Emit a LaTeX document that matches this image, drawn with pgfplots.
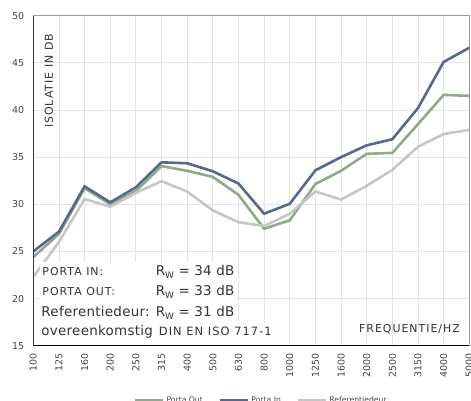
\documentclass[border=0pt]{standalone}
\usepackage{fontspec}
\setmainfont{DejaVu Sans}
\newfontfamily\spaced[LetterSpace=9]{DejaVu Sans}
\newfontfamily\bigtext[LetterSpace=2]{DejaVu Sans}
\usepackage{pgfplots}
\pgfplotsset{compat=1.18}
\definecolor{colin}{HTML}{58678C}
\definecolor{colout}{HTML}{8FAA89}
\definecolor{colref}{HTML}{C6C6C6}
\definecolor{gridc}{HTML}{E4E4E4}
\definecolor{bordc}{HTML}{9A9A9A}
\definecolor{textc}{HTML}{333333}
\definecolor{tickc}{HTML}{444444}
\begin{document}
\begin{tikzpicture}
\useasboundingbox (-33.3bp,-55.3bp) rectangle (437.7bp,345.7bp);
\begin{axis}[
  scale only axis, width=436bp, height=330bp,
  xmin=0, xmax=17, ymin=15, ymax=50,
  xtick={0,...,17},
  xticklabels={100,125,160,200,250,315,400,500,630,800,1000,1250,1600,2000,2500,3150,4000,5000},
  ytick={15,20,...,50},
  grid=major, major grid style={gridc, line width=0.8bp},
  major tick length=0pt,
  axis line style={bordc, line width=1.2bp},
  tick label style={/pgf/number format/assume math mode=true, font=\fontsize{9.5}{11}\selectfont, text=tickc},
  x tick label style={rotate=90, anchor=east, inner sep=0pt},
  xticklabel shift=8bp,
  y tick label style={inner sep=0pt},
  yticklabel shift=9bp,
  legend style={at={(0.523,-0.1667)}, anchor=center, draw=none, fill=none,
    legend columns=3, font=\fontsize{7.7}{9}\selectfont, text=tickc,
    /tikz/every even column/.append style={column sep=14bp}},
  legend image code/.code={\draw[#1] (0bp,0bp) -- (28bp,0bp);},
]
\addplot[colout, line width=2.6bp] coordinates {
(0,24.4) (1,26.85) (2,31.7) (3,30.0) (4,31.4) (5,34.05) (6,33.55) (7,32.9) (8,31.0) (9,27.4)
(10,28.3) (11,32.15) (12,33.55) (13,35.35) (14,35.45) (15,38.5) (16,41.6) (17,41.5)};
\addlegendentry{Porta Out}
\addplot[colin, line width=2.6bp] coordinates {
(0,25.0) (1,27.1) (2,31.9) (3,30.2) (4,31.8) (5,34.45) (6,34.35) (7,33.5) (8,32.2) (9,29.0)
(10,30.05) (11,33.6) (12,35.0) (13,36.25) (14,36.9) (15,40.2) (16,45.1) (17,46.6)};
\addlegendentry{Porta In}
\addplot[colref, line width=2.6bp] coordinates {
(0,22.3) (1,26.0) (2,30.55) (3,29.75) (4,31.2) (5,32.45) (6,31.35) (7,29.35) (8,28.1) (9,27.7)
(10,29.0) (11,31.35) (12,30.5) (13,31.95) (14,33.65) (15,36.1) (16,37.45) (17,37.9)};
\addlegendentry{Referentiedeur}
\fill[white] (axis cs:0.26,15) rectangle (axis cs:7.9,23.88);
\fill[white] (axis cs:7.9,15) rectangle (axis cs:9.62,17.3);
\draw[black, line width=1.5bp] (rel axis cs:0,1) -- (rel axis cs:0,0) -- (rel axis cs:1,0);
\node[rotate=90, anchor=west, inner sep=0pt, text=textc, font=\spaced\fontsize{11}{12}\selectfont] at (axis cs:0.61,38.09) {ISOLATIE IN DB};
\node[anchor=base east, inner sep=0pt, text=textc, font=\spaced\fontsize{11}{12}\selectfont] at (axis cs:16.64,16.35) {FREQUENTIE/HZ};
\node[anchor=base west, inner sep=0pt, text=textc, font=\spaced\fontsize{11}{12}\selectfont] at (axis cs:0.35,22.43) {PORTA IN:};
\node[anchor=base west, inner sep=0pt, text=textc, font=\spaced\fontsize{11}{12}\selectfont] at (axis cs:0.35,20.28) {PORTA OUT:};
\node[anchor=base west, inner sep=0pt, text=textc, font=\bigtext\fontsize{13.5}{15}\selectfont] at (axis cs:0.31,18.08) {Referentiedeur:};
\node[anchor=base west, inner sep=0pt, text=textc, font=\bigtext\fontsize{13.5}{15}\selectfont] at (axis cs:0.31,16.03) {overeenkomstig\hspace{6bp}{\spaced\fontsize{11.5}{12}\selectfont DIN EN ISO 717-1}};
\node[anchor=base west, inner sep=0pt, text=textc, font=\bigtext\fontsize{13.5}{15}\selectfont] at (axis cs:4.77,22.43) {R\raisebox{-3bp}{\fontsize{9}{9}\selectfont W} = 34 dB};
\node[anchor=base west, inner sep=0pt, text=textc, font=\bigtext\fontsize{13.5}{15}\selectfont] at (axis cs:4.77,20.28) {R\raisebox{-3bp}{\fontsize{9}{9}\selectfont W} = 33 dB};
\node[anchor=base west, inner sep=0pt, text=textc, font=\bigtext\fontsize{13.5}{15}\selectfont] at (axis cs:4.77,18.08) {R\raisebox{-3bp}{\fontsize{9}{9}\selectfont W} = 31 dB};
\end{axis}
\end{tikzpicture}
\end{document}
